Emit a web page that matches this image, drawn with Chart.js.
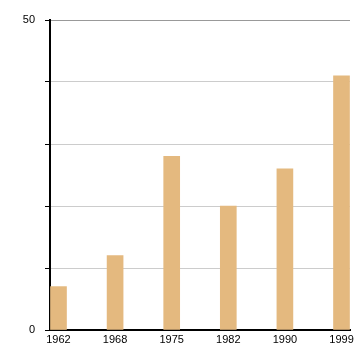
<!DOCTYPE html>
<html>
<head>
<meta charset="utf-8">
<script src="https://cdn.jsdelivr.net/npm/chart.js@4"></script>
<style>
    html, body { margin: 0; padding: 0; background: #fff; }
    #wrap { width: 360px; height: 360px; }
</style>
</head>
<body>
<div id="wrap"><canvas id="chart"></canvas></div>
<script>
const years = ["1962", "1968", "1975", "1982", "1990", "1999"];
const values = [7, 12, 28, 20, 26, 41];
const yTicks = [0, 10, 20, 30, 40, 50];
const yLabels = [0, 50]; // only these are written on the axis

const BAR_COLOR = "#e4b97f";
const FONT = { family: "'Liberation Sans', Arial, sans-serif", size: 11 };

// linear x axis so the bars can sit close to the plot edges
const points = values.map((v, i) => ({ x: i, y: v }));

new Chart(document.getElementById("chart"), {
    type: "bar",
    data: {
        datasets: [{
            data: points,
            backgroundColor: BAR_COLOR,
            borderWidth: 0,
            barThickness: 16,
        }]
    },
    options: {
        responsive: true,
        maintainAspectRatio: false,
        animation: false,
        layout: { padding: { top: 20, right: 10, left: 0, bottom: 0 } },
        plugins: { legend: { display: false }, tooltip: { enabled: false } },
        scales: {
            x: {
                type: "linear",
                offset: false,
                min: -0.15,
                max: years.length - 1 + 0.15,
                afterBuildTicks: scale => {
                    scale.ticks = years.map((_, i) => ({ value: i }));
                },
                afterFit: scale => { scale.height = 30; },
                grid: { display: true, drawOnChartArea: false, drawTicks: false },
                border: { color: "#000", width: 2 },
                ticks: {
                    color: "#000",
                    font: FONT,
                    padding: 3,
                    maxRotation: 0,
                    autoSkip: false,
                    callback: v => years[v] ?? "",
                },
            },
            y: {
                min: 0,
                max: 50,
                afterBuildTicks: scale => {
                    scale.ticks = yTicks.map(v => ({ value: v }));
                },
                afterFit: scale => { scale.width = 50; },
                grid: {
                    color: ctx => (ctx.tick && ctx.tick.value === 50 ? "#999" : "#ccc"),
                    tickColor: "#000",
                    tickLength: 5,
                },
                border: { color: "#000", width: 2 },
                ticks: {
                    color: "#000",
                    font: FONT,
                    padding: 10,
                    callback: v => (yLabels.includes(v) ? v : ""),
                },
            },
        },
    },
});
</script>
</body>
</html>
